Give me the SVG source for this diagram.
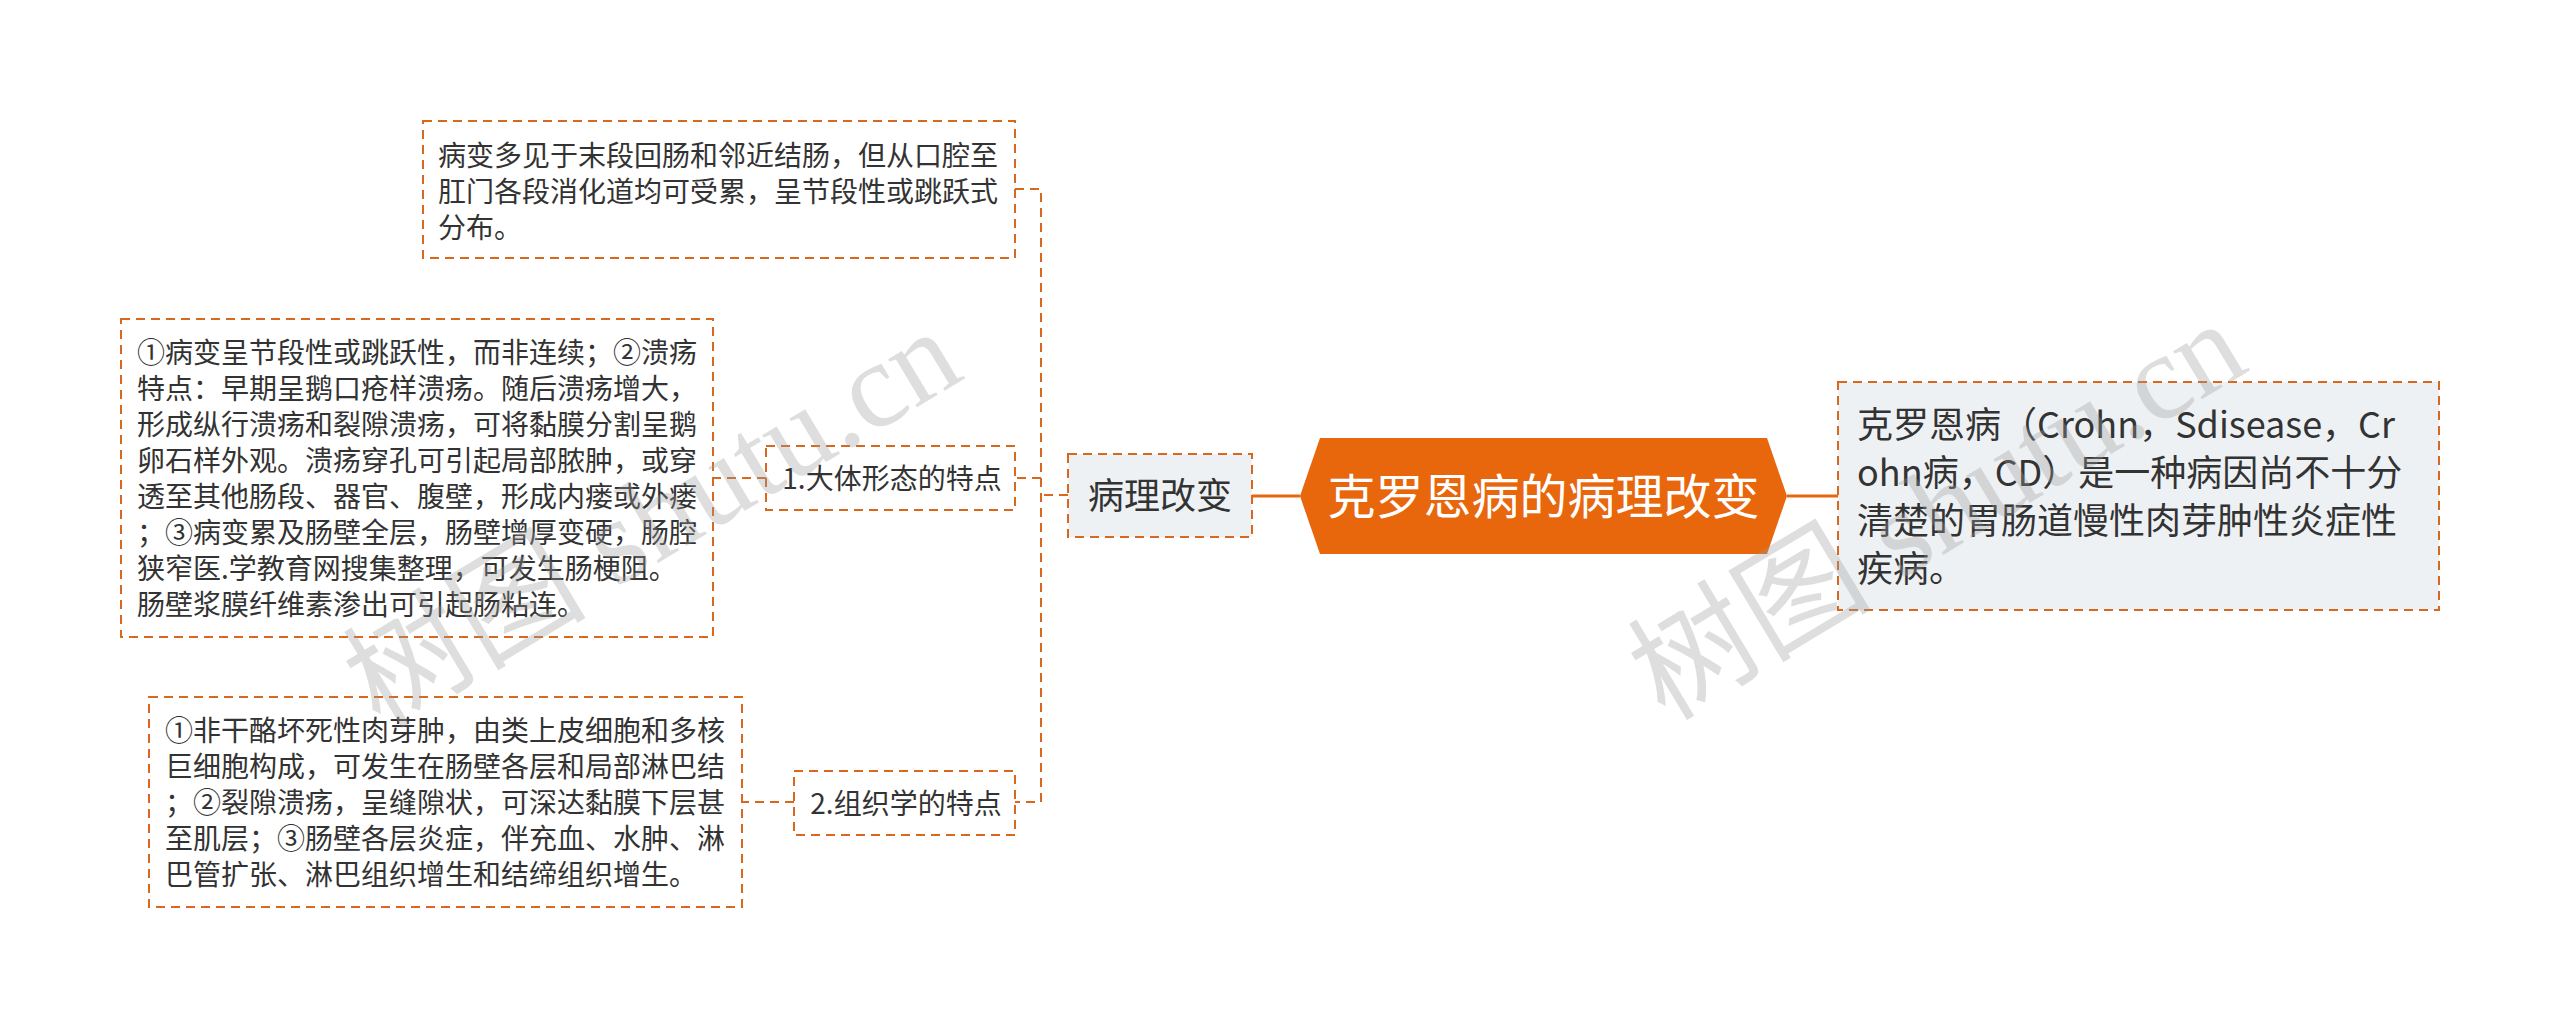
<svg xmlns="http://www.w3.org/2000/svg" width="2560" height="1029" viewBox="0 0 2560 1029">
<style>
.box{fill:#ffffff;stroke:#D9681F;stroke-width:2;stroke-dasharray:9 6}
.gbox{fill:#EEF1F4;stroke:#D9681F;stroke-width:2;stroke-dasharray:9 6}
.t{font-family:"Noto Sans CJK SC","Noto Sans",sans-serif;fill:#333333}
.t28{font-size:28px}
.t36{font-size:36px}
.dash{fill:none;stroke:#D9681F;stroke-width:2;stroke-dasharray:9 6}
.solid{fill:none;stroke:#E8660C;stroke-width:3}
.wm{font-size:122px;fill:#9a9a9a;fill-opacity:0.33}
</style>
<rect width="2560" height="1029" fill="#ffffff"/>
<g id="connectors">
<path class="dash" d="M1068,495 H1041"/>
<path class="dash" d="M1015,189 H1041 V802 H1015"/>
<path class="dash" d="M1041,478 H1015"/>
<path class="dash" d="M766,478 H713"/>
<path class="dash" d="M794,802 H742"/>
<path class="solid" d="M1252,496 H1300"/>
<path class="solid" d="M1787,496 H1838"/>
</g>
<g id="root">
<polygon points="1300,496 1320,438 1767,438 1787,496 1767,554 1320,554" fill="#E8660C"/>
<text x="1543.5" y="514" text-anchor="middle" font-family="Noto Sans CJK SC, sans-serif" font-size="48" fill="#ffffff">克罗恩病的病理改变</text>
</g>
<g id="node-bingli">
<rect class="gbox" x="1068" y="454" width="184" height="83"/>
<text class="t t36" x="1160" y="509" text-anchor="middle">病理改变</text>
</g>
<g id="node-def">
<rect class="gbox" x="1838" y="382" width="601" height="228"/>
<text class="t t36" x="1857" y="438">克罗恩病（Crohn，Sdisease，Cr</text>
<text class="t t36" x="1857" y="486">ohn病，CD）是一种病因尚不十分</text>
<text class="t t36" x="1857" y="534">清楚的胃肠道慢性肉芽肿性炎症性</text>
<text class="t t36" x="1857" y="582">疾病。</text>
</g>
<g id="node-top">
<rect class="box" x="423" y="121" width="592" height="137"/>
<text class="t t28" x="438" y="165.6">病变多见于末段回肠和邻近结肠，但从口腔至</text>
<text class="t t28" x="438" y="201.6">肛门各段消化道均可受累，呈节段性或跳跃式</text>
<text class="t t28" x="438" y="237.6">分布。</text>
</g>
<g id="node-label1">
<rect class="box" x="766" y="446" width="249" height="64"/>
<text class="t t28" x="892" y="489" text-anchor="middle">1.大体形态的特点</text>
</g>
<g id="node-gross">
<rect class="box" x="121" y="319" width="592" height="318"/>
<text class="t t28" x="137" y="362.6">①病变呈节段性或跳跃性，而非连续；②溃疡</text>
<text class="t t28" x="137" y="398.6">特点：早期呈鹅口疮样溃疡。随后溃疡增大，</text>
<text class="t t28" x="137" y="434.6">形成纵行溃疡和裂隙溃疡，可将黏膜分割呈鹅</text>
<text class="t t28" x="137" y="470.6">卵石样外观。溃疡穿孔可引起局部脓肿，或穿</text>
<text class="t t28" x="137" y="506.6">透至其他肠段、器官、腹壁，形成内瘘或外瘘</text>
<text class="t t28" x="137" y="542.6">；③病变累及肠壁全层，肠壁增厚变硬，肠腔</text>
<text class="t t28" x="137" y="578.6">狭窄医.学教育网搜集整理，可发生肠梗阻。</text>
<text class="t t28" x="137" y="614.6">肠壁浆膜纤维素渗出可引起肠粘连。</text>
</g>
<g id="node-label2">
<rect class="box" x="794" y="771" width="221" height="64"/>
<text class="t t28" x="906" y="813.6" text-anchor="middle">2.组织学的特点</text>
</g>
<g id="node-histo">
<rect class="box" x="149" y="697" width="593" height="210"/>
<text class="t t28" x="165" y="740.6">①非干酪坏死性肉芽肿，由类上皮细胞和多核</text>
<text class="t t28" x="165" y="776.6">巨细胞构成，可发生在肠壁各层和局部淋巴结</text>
<text class="t t28" x="165" y="812.6">；②裂隙溃疡，呈缝隙状，可深达黏膜下层甚</text>
<text class="t t28" x="165" y="848.6">至肌层；③肠壁各层炎症，伴充血、水肿、淋</text>
<text class="t t28" x="165" y="884.6">巴管扩张、淋巴组织增生和结缔组织增生。</text>
</g>
<g id="watermarks">
<text class="wm" transform="translate(380,730) rotate(-31)"><tspan font-family="Noto Sans CJK SC, sans-serif">树图</tspan><tspan font-family="Liberation Serif, serif"> shutu.cn</tspan></text>
<text class="wm" transform="translate(1665,722) rotate(-31)"><tspan font-family="Noto Sans CJK SC, sans-serif">树图</tspan><tspan font-family="Liberation Serif, serif"> shutu.cn</tspan></text>
</g>
</svg>
